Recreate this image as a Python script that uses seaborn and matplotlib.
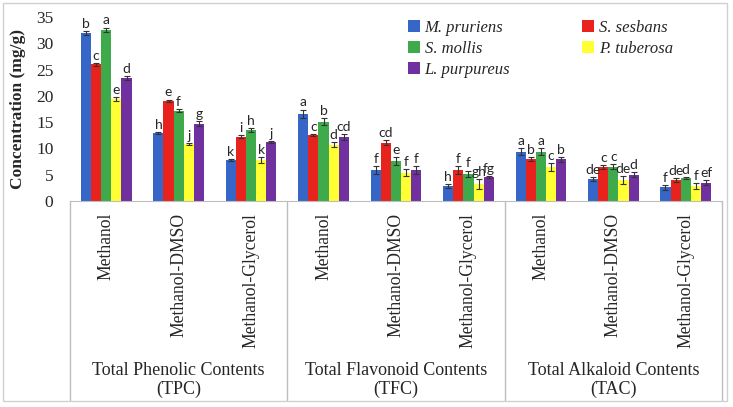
import numpy as np
import pandas as pd
import seaborn as sns
import matplotlib.pyplot as plt
from matplotlib.transforms import blended_transform_factory
from matplotlib.patches import Rectangle
from matplotlib.container import BarContainer

# solvent extracts and assay groups
solvents = ["Methanol", "Methanol-DMSO", "Methanol-Glycerol"]
assays = ["Total Phenolic Contents\n(TPC)", "Total Flavonoid Contents\n(TFC)",
          "Total Alkaloid Contents\n(TAC)"]
species = ["M. pruriens", "S. sesbans", "S. mollis", "P. tuberosa", "L. purpureus"]
colors = ["#3566C8", "#E8221C", "#3FAA4C", "#FFFF33", "#7030A0"]

# values (mg/g), order: TPC x3 solvents, TFC x3, TAC x3
m_pruriens = [31.9, 13.0, 7.8, 16.6, 5.9, 2.9, 9.4, 4.2, 2.6]
s_sesbans = [26.0, 19.1, 12.2, 12.6, 11.1, 5.9, 8.0, 6.5, 4.0]
s_mollis = [32.6, 17.2, 13.5, 15.1, 7.6, 5.2, 9.4, 6.5, 4.4]
p_tuberosa = [19.4, 10.9, 7.8, 10.7, 5.4, 3.2, 6.5, 4.0, 2.9]
l_purpureus = [23.4, 14.7, 11.2, 12.2, 5.9, 4.6, 7.9, 5.0, 3.5]

# standard errors
err_m = [0.4, 0.2, 0.2, 0.8, 0.7, 0.4, 0.6, 0.4, 0.5]
err_s = [0.3, 0.2, 0.3, 0.2, 0.5, 0.7, 0.4, 0.4, 0.4]
err_mo = [0.4, 0.3, 0.4, 0.6, 0.7, 0.6, 0.6, 0.5, 0.2]
err_p = [0.3, 0.2, 0.5, 0.5, 0.7, 1.0, 0.7, 0.7, 0.6]
err_l = [0.3, 0.5, 0.2, 0.6, 0.7, 0.2, 0.4, 0.5, 0.5]

# significance letters
let_m = ["b", "h", "k", "a", "f", "h", "a", "de", "f"]
let_s = ["c", "e", "i", "c", "cd", "f", "b", "c", "de"]
let_mo = ["a", "f", "h", "b", "e", "f", "a", "c", "d"]
let_p = ["e", "j", "k", "d", "f", "gh", "c", "de", "f"]
let_l = ["d", "g", "j", "cd", "f", "fg", "b", "d", "ef"]

values = [m_pruriens, s_sesbans, s_mollis, p_tuberosa, l_purpureus]
errors = [err_m, err_s, err_mo, err_p, err_l]
letters = [let_m, let_s, let_mo, let_p, let_l]

slots = [f"{a.split()[1]}|{s}" for a in assays for s in solvents]
rows = []
for sp, vals in zip(species, values):
    for slot, v in zip(slots, vals):
        rows.append({"slot": slot, "species": sp, "value": v})
df = pd.DataFrame(rows)

sns.set_style("white")
W, H = 733, 407
fig = plt.figure(figsize=(W / 100, H / 100), dpi=100)
ax = fig.add_axes([70 / W, (H - 201) / H, 652 / W, 184 / H])

sns.barplot(data=df, x="slot", y="value", hue="species", order=slots,
            hue_order=species, palette=colors, width=0.7, saturation=1,
            edgecolor="none", errorbar=None, ax=ax)

# error bars and letters
bar_sets = [c for c in ax.containers if isinstance(c, BarContainer)]
for i, cont in enumerate(bar_sets):
    for j, bar in enumerate(cont.patches):
        xc = bar.get_x() + bar.get_width() / 2
        top = bar.get_height()
        ax.errorbar(xc, top, yerr=errors[i][j], fmt="none", ecolor="#333333",
                    elinewidth=0.8, capsize=2.5, capthick=0.8)
        ax.text(xc, top + errors[i][j] + 0.2, letters[i][j], ha="center",
                va="bottom", fontsize=10, family="Lato")

ax.set_ylim(0, 35)
ax.set_xlim(-0.5, 8.5)
ax.set_yticks(range(0, 36, 5))
ax.set_yticklabels([str(t) for t in range(0, 36, 5)], family="Liberation Serif",
                   fontsize=12.5)
ax.tick_params(axis="y", length=0, pad=12)
ax.set_xticks([])
ax.set_xlabel("")
ax.set_ylabel("Concentration (mg/g)", family="Liberation Serif", fontsize=12.5,
              fontweight="bold", labelpad=7)
for side in ["left", "right", "top"]:
    ax.spines[side].set_visible(False)
ax.spines["bottom"].set_color("#bdbdbd")

trans = blended_transform_factory(ax.transData, ax.transAxes)
for k in range(9):
    ax.text(k, -12 / 184, solvents[k % 3], rotation=90, ha="center", va="top",
            family="Liberation Serif", fontsize=12.7, transform=trans)
for g in range(3):
    ax.text(3 * g + 1, -161 / 184, assays[g], ha="center", va="top",
            family="Liberation Serif", fontsize=13, linespacing=1.1,
            transform=trans)
for xs in [-0.5, 2.5, 5.5, 8.5]:
    ax.plot([xs, xs], [0, -199 / 184], color="#bdbdbd", lw=1,
            transform=trans, clip_on=False)

# legend in two columns, row-wise order
handles, labels = ax.get_legend_handles_labels()
order = [0, 2, 4, 1, 3]
ax.legend([handles[i] for i in order], [labels[i] for i in order], ncol=2,
          loc="upper left", bbox_to_anchor=(393 / W, 1 - 5 / H),
          bbox_transform=fig.transFigure, frameon=False,
          prop={"family": "Liberation Serif", "style": "italic", "size": 12},
          handlelength=0.7, handleheight=0.7, handletextpad=0.3,
          columnspacing=4.3, labelspacing=0.3)

fig.patches.append(Rectangle((3 / W, 6 / H), 724 / W, 398 / H, fill=False,
                             edgecolor="#d0d0d0", lw=1,
                             transform=fig.transFigure))

fig.savefig("out.png", dpi=100)
